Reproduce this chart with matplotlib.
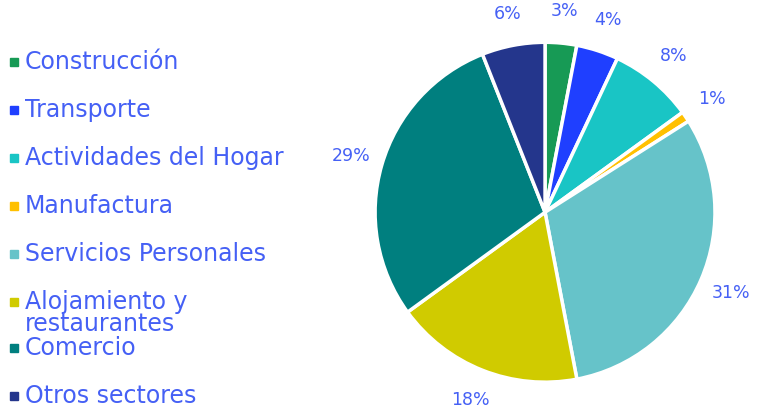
import matplotlib
matplotlib.use("Agg")
import matplotlib.pyplot as plt
from matplotlib.patches import Rectangle

sectores = ["Construcción", "Transporte", "Actividades del Hogar", "Manufactura",
            "Servicios Personales", "Alojamiento y\nrestaurantes", "Comercio", "Otros sectores"]
valores = [3, 4, 8, 1, 31, 18, 29, 6]
colores = ["#179a55", "#1f3fff", "#19c5c5", "#ffc000",
           "#66c3c9", "#d0cb00", "#007f7f", "#24368c"]
texto = "#4560f5"

W, H = 757, 408
fig = plt.figure(figsize=(W / 100, H / 100), dpi=100)
plt.rcParams['font.family'] = ['DejaVu Sans']

# pie
ax = fig.add_axes([0.4955, 0.0633, 0.449, 0.833])
wedges, _, autotexts = ax.pie(valores, colors=colores, startangle=90, counterclock=False,
                              autopct='%1.0f%%', pctdistance=1.19,
                              wedgeprops=dict(edgecolor='white', linewidth=2.5),
                              textprops=dict(color=texto, fontsize=12.5))
ax.set_aspect('auto')
ax.set_xlim(-1, 1)
ax.set_ylim(-1, 1)

# legend drawn by hand
y0, paso = 62, 48
for i, (nombre, c) in enumerate(zip(sectores, colores)):
    y = y0 + paso * i
    if i > 5:
        y -= 2
    fig.patches.append(Rectangle((10 / W, 1 - (y + 4) / H), 8 / W, 8 / H,
                                 transform=fig.transFigure, color=c, figure=fig))
    fig.text(25 / W, 1 - (y - 12) / H, nombre, color=texto, fontsize=17,
             ha='left', va='top', linespacing=0.9)

fig.savefig("out.png", dpi=100)
